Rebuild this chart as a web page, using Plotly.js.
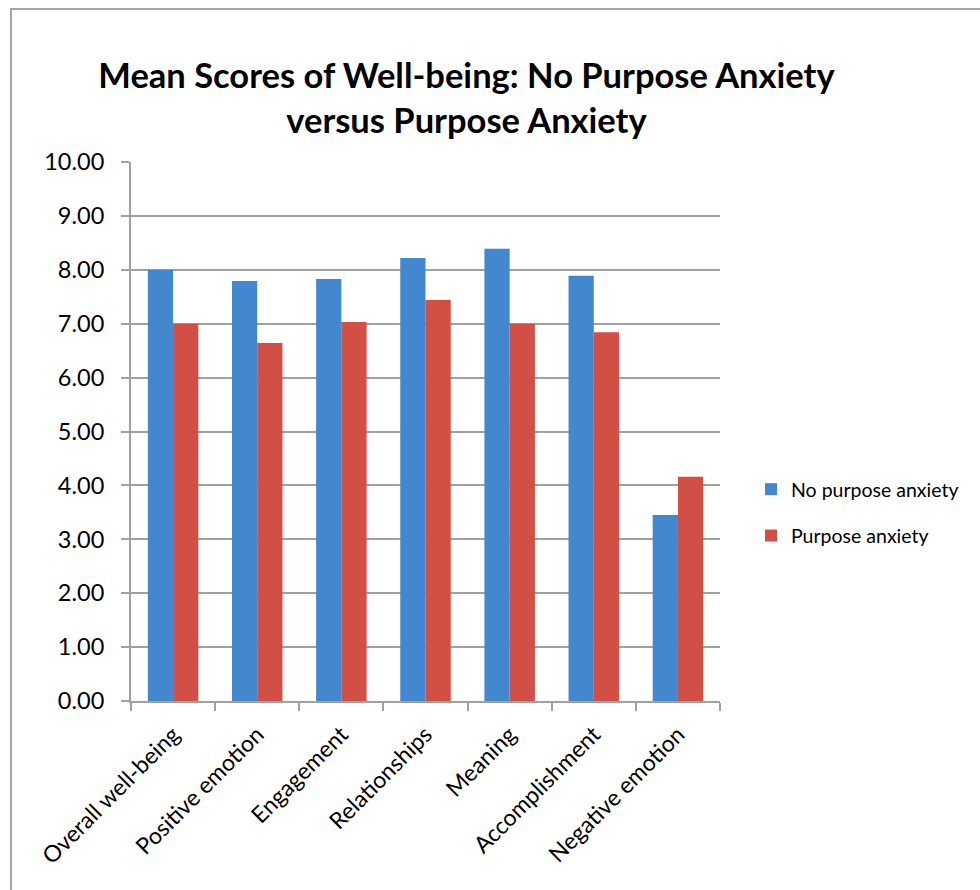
<!DOCTYPE html>
<html>
<head>
<meta charset="utf-8">
<script src="https://cdn.plot.ly/plotly-3.0.1.min.js"></script>
<style>
  html, body { margin: 0; padding: 0; background: #fff; }
  #frame { position: absolute; left: 10px; top: 8px; width: 1200px; height: 1200px; border: 2px solid #a6a6a6; }
  #chart { position: absolute; left: 0; top: 0; width: 980px; height: 890px; }
</style>
</head>
<body>
<div id="frame"></div>
<div id="chart"></div>
<script>
const categories = ["Overall well-being", "Positive emotion", "Engagement", "Relationships", "Meaning", "Accomplishment", "Negative emotion"];
const noPurposeAnxiety = [8.00, 7.79, 7.83, 8.22, 8.39, 7.89, 3.45];
const purposeAnxiety = [7.00, 6.64, 7.03, 7.44, 7.00, 6.84, 4.16];
const yTicks = [0, 1, 2, 3, 4, 5, 6, 7, 8, 9, 10];

const FONT = "Lato, 'Open Sans', sans-serif";

const traces = [
  {
    type: "bar", name: "No purpose anxiety", x: categories, y: noPurposeAnxiety,
    marker: { color: "#4387cf" }, legendgroup: "a"
  },
  {
    type: "bar", name: "Purpose anxiety", x: categories, y: purposeAnxiety,
    marker: { color: "#d14f45" }, legendgroup: "b"
  }
];

const layout = {
  width: 980, height: 890,
  paper_bgcolor: "rgba(0,0,0,0)", plot_bgcolor: "rgba(0,0,0,0)",
  margin: { l: 131, r: 260, t: 162, b: 189 },
  font: { family: FONT, color: "#000" },
  title: {
    text: "<b>Mean Scores of Well-being: No Purpose Anxiety<br>versus Purpose Anxiety</b>",
    font: { family: FONT, size: 34.5, color: "#000" },
    x: 0.476, xref: "container", xanchor: "center",
    y: 1 - 88 / 890, yref: "container", yanchor: "top"
  },
  barmode: "group", bargap: 0.4, bargroupgap: 0,
  xaxis: {
    type: "category", tickangle: -45,
    tickfont: { family: FONT, size: 23, color: "#000" },
    ticklabelstandoff: 9,
    showline: true, linecolor: "#a0a0a0", linewidth: 2,
    ticks: "outside", tickson: "boundaries", ticklen: 8, tickcolor: "#a0a0a0", tickwidth: 2,
    showgrid: false
  },
  yaxis: {
    range: [0, 10], tickvals: yTicks, tickformat: ".2f",
    tickfont: { family: FONT, size: 23.5, color: "#000" },
    ticklabelstandoff: 12,
    showline: true, linecolor: "#a0a0a0", linewidth: 2,
    ticks: "outside", ticklen: 8, tickcolor: "#a0a0a0", tickwidth: 2,
    showgrid: true, gridcolor: "#a0a0a0", gridwidth: 2, zeroline: false
  },
  legend: {
    x: 751 / 980, xref: "container", y: (890 - 470) / 890, yref: "container",
    xanchor: "left", yanchor: "top",
    font: { family: FONT, size: 19.5, color: "#000" },
    traceorder: "grouped", tracegroupgap: 18,
    itemwidth: 30
  },
  showlegend: true
};

Plotly.newPlot("chart", traces, layout, { displayModeBar: false, staticPlot: true });
</script>
</body>
</html>
